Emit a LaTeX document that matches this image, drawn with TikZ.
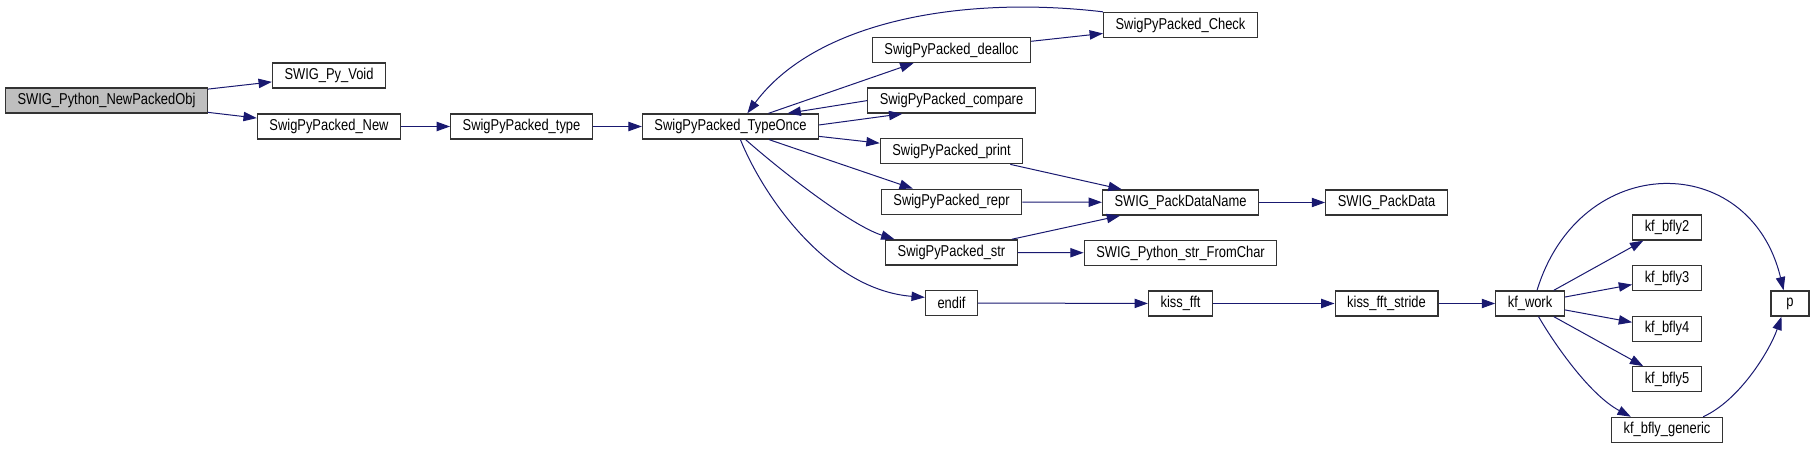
\documentclass[tikz,border=0pt]{standalone}
\usepackage{fontspec}
\setmainfont{Liberation Sans}[FakeStretch=0.82]
\usetikzlibrary{arrows.meta,positioning}
\definecolor{edge}{HTML}{191970}
\definecolor{frame}{HTML}{333333}
\definecolor{rootfill}{HTML}{BFBFBF}

\begin{document}
\begin{tikzpicture}[x=0.75pt,y=-0.75pt,fn/.style={draw=frame,line width=1pt,fill=white,minimum height=18.75pt,minimum width=28.5pt,inner xsep=9pt,inner ysep=0pt,font=\fontsize{11.8pt}{13pt}\selectfont},call/.style={-{Triangle[length=10pt,width=7pt]},edge,line width=0.75pt}]
 \useasboundingbox (0,0) rectangle (1815,449);
 \node[fn,fill=rootfill] (newobj) at (106.5,100.5) {SWIG\_Python\_NewPackedObj};
 \node[fn] (pyvoid) at (329,75.5) {SWIG\_Py\_Void}; \node[fn] (pnew) at (329,126.5) {SwigPyPacked\_New};
 \node[fn] (ptype) at (521.5,126.5) {SwigPyPacked\_type}; \node[fn] (typeonce) at (730.5,126.5) {SwigPyPacked\_TypeOnce};
 \node[fn] (dealloc) at (951.5,50) {SwigPyPacked\_dealloc};
 \node[fn,below=18.2pt of dealloc] (compare) {SwigPyPacked\_compare};
 \node[fn,below=18.2pt of compare] (print) {SwigPyPacked\_print};
 \node[fn,below=18.2pt of print] (repr) {SwigPyPacked\_repr};
 \node[fn,below=18.2pt of repr] (str) {SwigPyPacked\_str};
 \node[fn,below=18.2pt of str] (endif) {endif};
 \node[fn] (check) at (1180.5,25) {SwigPyPacked\_Check}; \node[fn] (packname) at (1180.5,202.5) {SWIG\_PackDataName};
 \node[fn] (packdata) at (1386.5,202.5) {SWIG\_PackData}; \node[fn] (fromchar) at (1180.5,253) {SWIG\_Python\_str\_FromChar};
 \node[fn] (kissfft) at (1180.5,303.5) {kiss\_fft}; \node[fn] (stride) at (1386.5,303.5) {kiss\_fft\_stride};
 \node[fn] (kfwork) at (1530,303.5) {kf\_work};
 \node[fn] (bfly2) at (1667,227.5) {kf\_bfly2};
 \node[fn,below=18.2pt of bfly2] (bfly3) {kf\_bfly3};
 \node[fn,below=18.2pt of bfly3] (bfly4) {kf\_bfly4};
 \node[fn,below=18.2pt of bfly4] (bfly5) {kf\_bfly5};
 \node[fn,below=18.2pt of bfly5] (generic) {kf\_bfly\_generic};
 \node[fn] (p) at (1790,303.5) {p};
 \draw[call] (newobj)--(pyvoid); \draw[call] (newobj)--(pnew); \draw[call] (pnew)--(ptype); \draw[call] (ptype)--(typeonce);
 \draw[call] (typeonce)--(dealloc); \draw[call] (dealloc)--(check);
 \draw[call] (check.north west) .. controls (960,-5) and (815,22) .. (typeonce.38);
 \draw[call] (compare.west)--(typeonce.13); \draw[call] (typeonce.1)--(compare.195);
 \draw[call] (typeonce)--(print); \draw[call] (typeonce)--(repr);
 \draw[call] (typeonce.-41) .. controls (780,170) and (850,225) .. (str.167);
 \draw[call] (typeonce.-53) .. controls (765,200) and (830,290) .. (endif.168);
 \draw[call] (print)--(packname); \draw[call] (repr)--(packname); \draw[call] (str)--(packname); \draw[call] (str)--(fromchar);
 \draw[call] (packname)--(packdata); \draw[call] (endif)--(kissfft); \draw[call] (kissfft)--(stride); \draw[call] (stride)--(kfwork);
 \draw[call] (kfwork)--(bfly2); \draw[call] (kfwork)--(bfly3); \draw[call] (kfwork)--(bfly4); \draw[call] (kfwork)--(bfly5);
 \draw[call] (kfwork.-57) .. controls (1555,345) and (1590,395) .. (generic.160);
 \draw[call] (kfwork.62) .. controls (1580,150) and (1750,150) .. (p.116);
 \draw[call] (generic.20) .. controls (1740,400) and (1770,350) .. (p.-123);
\end{tikzpicture}
\end{document}
